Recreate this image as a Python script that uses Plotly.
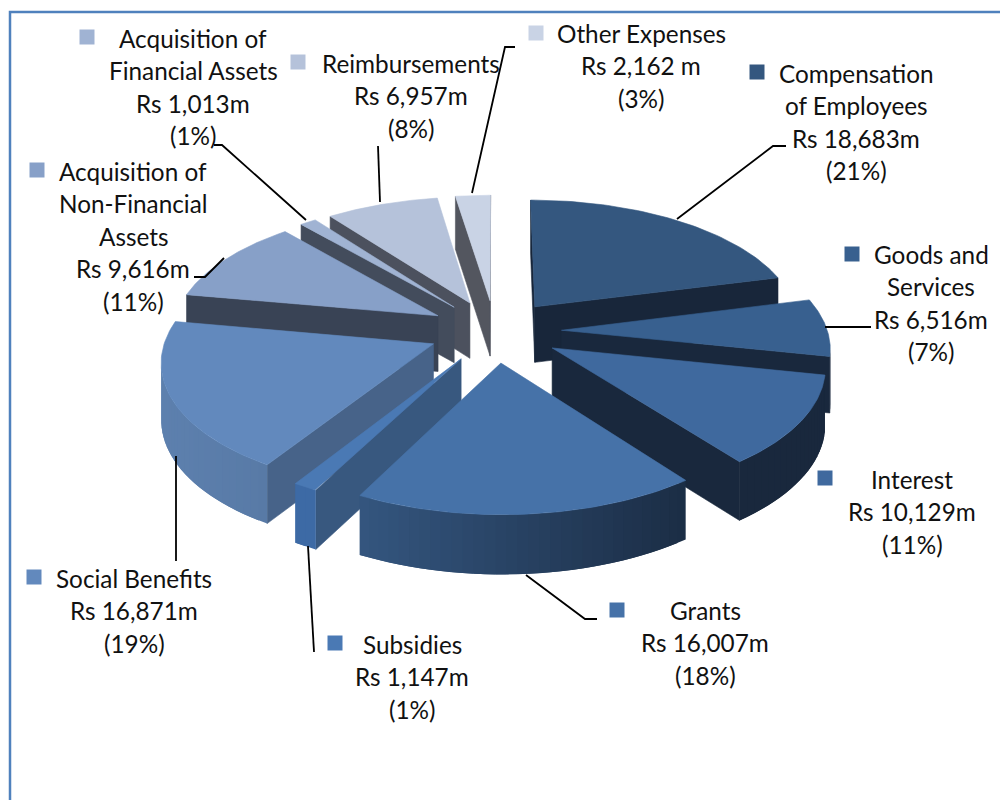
import numpy as np
import plotly.graph_objects as go

# data
categories = ['Compensation of Employees', 'Goods and Services', 'Interest', 'Grants', 'Subsidies',
              'Social Benefits', 'Acquisition of Non-Financial Assets',
              'Acquisition of Financial Assets', 'Reimbursements', 'Other Expenses']
values = [18683, 6516, 10129, 16007, 1147, 16871, 9616, 1013, 6957, 2162]
amount_labels = ['Rs 18,683m', 'Rs 6,516m', 'Rs 10,129m', 'Rs 16,007m', 'Rs 1,147m',
                 'Rs 16,871m', 'Rs 9,616m', 'Rs 1,013m', 'Rs 6,957m', 'Rs 2,162 m']
percent_labels = ['(21%)', '(7%)', '(11%)', '(18%)', '(1%)', '(19%)', '(11%)', '(1%)', '(8%)', '(3%)']
name_lines = [['Compensation', 'of Employees'], ['Goods and', 'Services'], ['Interest'], ['Grants'],
              ['Subsidies'], ['Social Benefits'], ['Acquisition of', 'Non-Financial', 'Assets'],
              ['Acquisition of', 'Financial Assets'], ['Reimbursements'], ['Other Expenses']]

# colours per slice
top_colors = ['#34577f', '#38608f', '#3f699e', '#4672a8', '#4a79b4',
              '#6289bd', '#87a0c8', '#a0b3d3', '#b5c2da', '#c9d3e5']
cut_colors = ['#18263a', '#19283d', '#19283d', '#1b2d45', '#38587f',
              '#476389', '#394355', '#434c5c', '#4c515e', '#53565f']
rim_left = ['#18263a', '#19283d', '#19283d', '#34567f', '#3d6aa5',
            '#5d80ae', '#394355', '#434c5c', '#4c515e', '#53565f']
rim_right = ['#18263a', '#19283d', '#19283d', '#1b2d45', '#3d6aa5',
             '#587aa6', '#394355', '#434c5c', '#4c515e', '#53565f']

# projection of the tilted pie
CX, CY = 495, 331
RX, RY = 266, 125
PERSP = 0.12
EXPLODE = 0.25
DEPTH = 56

# label layout: centre x, y of first line, marker x, marker y
label_x = [856, 931, 912, 705, 412, 134, 133, 193, 411, 641]
label_y = [73, 254, 479, 610, 644, 578, 171, 38, 63, 33]
marker_x = [757, 852, 825, 617, 335, 34, 37, 87, 298, 536]
marker_y = [72, 254, 478, 610, 643, 577, 170, 37, 62, 33]
LINE_H = 32.5

leaders = [[(786, 146), (773, 146), (677, 219)],
           [(871, 327), (825, 327)],
           [(526, 575), (585, 619), (597, 619)],
           [(308, 546), (314, 652)],
           [(176, 456), (176, 561)],
           [(194, 277), (205, 277), (224, 258)],
           [(214, 145), (222, 145), (306, 220)],
           [(378, 146), (380, 202)],
           [(515, 47), (505, 47), (472, 193)]]


def project(theta, r, mid):
    u = r * np.sin(theta) + EXPLODE * np.sin(mid)
    v = -r * np.cos(theta) - EXPLODE * np.cos(mid)
    w = 1 / (1 - PERSP * v)
    return CX + RX * u * w, CY + RY * v * w, DEPTH * w ** 0.4


def area(xs, ys):
    return sum(xs[i] * ys[(i + 1) % len(xs)] - xs[(i + 1) % len(xs)] * ys[i] for i in range(len(xs))) / 2


def mix(c1, c2, t):
    a = [int(c1[i:i + 2], 16) for i in (1, 3, 5)]
    b = [int(c2[i:i + 2], 16) for i in (1, 3, 5)]
    return '#%02x%02x%02x' % tuple(round(p + (q - p) * t) for p, q in zip(a, b))


def poly(xs, ys, color, lw=0.6):
    fig.add_trace(go.Scatter(x=list(xs) + [xs[0]], y=list(ys) + [ys[0]], mode='lines', fill='toself',
                             fillcolor=color, line=dict(color=color, width=lw), hoverinfo='skip'))


fig = go.Figure()

fractions = np.array(values) / sum(values)
ends = np.cumsum(fractions) * 2 * np.pi
starts = ends - fractions * 2 * np.pi
mids = (starts + ends) / 2

# 后面的先画
order = np.argsort(np.cos(mids) * -1)
for i in order:
    t0, t1, mid = starts[i], ends[i], mids[i]
    ax, ay, ad = project(0, 0, mid)

    # cut faces, only those that face the viewer
    px, py, pd = project(t0, 1, mid)
    qs = [ax, px, px, ax]
    rs = [ay, py, py + pd, ay + ad]
    if area(qs, rs) < 0:
        poly(qs, rs, cut_colors[i])
    px, py, pd = project(t1, 1, mid)
    qs = [ax, px, px, ax]
    rs = [ay, py, py + pd, ay + ad]
    if area(qs, rs) > 0:
        poly(qs, rs, cut_colors[i])

    # outer wall as thin strips, each one runs under the next so no seams show
    n = max(2, int(np.degrees(t1 - t0) / 2))
    angles = np.linspace(t0, t1, n + 1)
    xs, ys, ds = project(angles, 1, mid)
    lo, hi = xs.min(), xs.max()
    for j in range(n):
        k = min(j + 2, n)
        qs = [xs[j], xs[k], xs[k], xs[j]]
        rs = [ys[j], ys[k], ys[k] + ds[k], ys[j] + ds[j]]
        if area(qs, rs) < 0:
            tt = ((xs[j] + xs[j + 1]) / 2 - lo) / (hi - lo)
            poly(qs, rs, mix(rim_left[i], rim_right[i], tt), lw=0)

    # top face
    angles = np.linspace(t0, t1, 60)
    xs, ys, ds = project(angles, 1, mid)
    poly([ax] + list(xs), [ay] + list(ys), top_colors[i])

# leader lines
for pts in leaders:
    fig.add_trace(go.Scatter(x=[p[0] for p in pts], y=[p[1] for p in pts], mode='lines',
                             line=dict(color='black', width=1.8), hoverinfo='skip'))

# legend squares beside the labels
fig.add_trace(go.Scatter(x=marker_x, y=marker_y, mode='markers', hoverinfo='skip',
                         marker=dict(symbol='square', size=15, color=top_colors, line=dict(width=0))))

for i in range(len(categories)):
    lines = name_lines[i] + [amount_labels[i], percent_labels[i]]
    for k, txt in enumerate(lines):
        fig.add_annotation(x=label_x[i], y=label_y[i] + k * LINE_H, text=txt, showarrow=False,
                           xanchor='center', yanchor='middle',
                           font=dict(family='Lato', size=24.3, color='#111111'))

fig.update_layout(
    width=1000, height=800,
    margin=dict(l=0, r=0, t=0, b=0),
    showlegend=False,
    plot_bgcolor='white', paper_bgcolor='white',
    xaxis=dict(range=[0, 1000], visible=False, fixedrange=True),
    yaxis=dict(range=[800, 0], visible=False, fixedrange=True),
    shapes=[dict(type='rect', x0=10, y0=12, x1=1020, y1=820,
                 line=dict(color='#4f81bd', width=2.5))],
)

fig.write_html("out.html", config=dict(displayModeBar=False),
               post_script="document.body.style.margin='0';document.body.style.overflow='hidden';")
